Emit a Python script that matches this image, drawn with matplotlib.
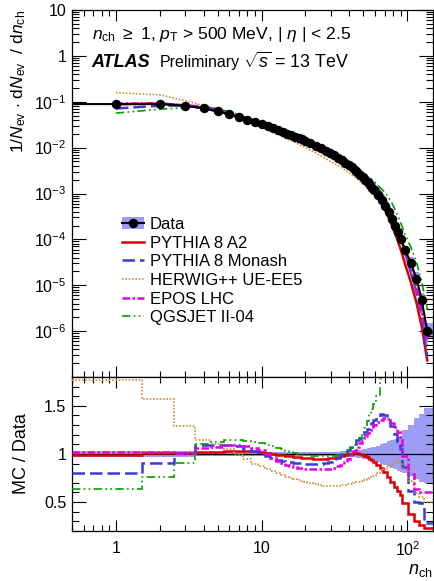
import numpy as np
import matplotlib
matplotlib.use('Agg')
import matplotlib.pyplot as plt
from matplotlib.ticker import FixedLocator, FixedFormatter, LogLocator, MultipleLocator, NullFormatter
from matplotlib.patches import Patch
from matplotlib.lines import Line2D

plt.rcParams['font.family'] = ['Liberation Sans', 'DejaVu Sans']
plt.rcParams['mathtext.fontset'] = 'custom'
plt.rcParams['mathtext.rm'] = 'Liberation Sans'
plt.rcParams['mathtext.it'] = 'Liberation Sans:italic'
plt.rcParams['mathtext.bf'] = 'Liberation Sans:bold'

# bin centres / edges (n_ch)
nch = [1, 2, 3, 4, 5, 6, 7, 8, 9, 10, 11, 12, 13, 14, 15, 16, 17, 18, 19, 20,
       21.5, 23.5, 25.5, 27.5, 29.5, 31.5, 33.5, 35.5, 37.5, 39.5,
       41.5, 43.5, 45.5, 47.5, 49.5, 51.5, 53.5, 55.5, 57.5, 59.5,
       62.5, 66.5, 70.5, 74.5, 78.5, 82.5, 86.5, 90.5,
       96.5, 105.5, 115.5, 125.5, 137]
edges = [0.5, 1.5, 2.5, 3.5, 4.5, 5.5, 6.5, 7.5, 8.5, 9.5, 10.5, 11.5, 12.5, 13.5, 14.5,
         15.5, 16.5, 17.5, 18.5, 19.5, 20.5,
         22.5, 24.5, 26.5, 28.5, 30.5, 32.5, 34.5, 36.5, 38.5, 40.5,
         42.5, 44.5, 46.5, 48.5, 50.5, 52.5, 54.5, 56.5, 58.5, 60.5,
         64.5, 68.5, 72.5, 76.5, 80.5, 84.5, 88.5, 92.5,
         100.5, 110.5, 120.5, 130.5, 150.5]

# 1/Nev dNev/dnch
data = [0.089, 0.090, 0.082, 0.072, 0.062, 0.053, 0.046, 0.040, 0.036, 0.0331,
        0.0295, 0.0263, 0.0240, 0.0219, 0.0200, 0.0186, 0.0174, 0.0162, 0.0151, 0.0141,
        0.0127, 0.0111, 0.0097, 0.0086, 0.00764, 0.00676, 0.00603, 0.00533, 0.00473, 0.0042,
        0.00372, 0.00331, 0.00293, 0.00257, 0.00226, 0.00199, 0.00175, 0.00153, 0.00135, 0.00119,
        9.5e-4, 7.1e-4, 5.3e-4, 3.86e-4, 2.78e-4, 2.0e-4, 1.43e-4, 1.0e-4,
        5.9e-5, 3.1e-5, 1.4e-5, 4.8e-6, 1.0e-6]

# relative uncertainty of data (up / down)
err_up = [0.03, 0.03, 0.03, 0.025, 0.025, 0.025, 0.02, 0.02, 0.02, 0.02,
          0.018, 0.018, 0.018, 0.018, 0.018, 0.018, 0.018, 0.018, 0.018, 0.018,
          0.018, 0.018, 0.019, 0.02, 0.021, 0.022, 0.024, 0.026, 0.028, 0.03,
          0.033, 0.036, 0.04, 0.044, 0.048, 0.053, 0.058, 0.064, 0.07, 0.076,
          0.085, 0.10, 0.115, 0.13, 0.145, 0.16, 0.175, 0.19,
          0.245, 0.30, 0.37, 0.42, 0.48]
err_dn = [0.03, 0.03, 0.03, 0.025, 0.025, 0.025, 0.02, 0.02, 0.02, 0.02,
          0.018, 0.018, 0.018, 0.018, 0.018, 0.018, 0.018, 0.018, 0.018, 0.018,
          0.018, 0.018, 0.019, 0.02, 0.021, 0.022, 0.024, 0.026, 0.028, 0.03,
          0.033, 0.036, 0.04, 0.044, 0.048, 0.053, 0.058, 0.064, 0.07, 0.076,
          0.085, 0.10, 0.115, 0.13, 0.145, 0.16, 0.175, 0.19,
          0.20, 0.23, 0.26, 0.29, 0.30]

# MC / Data
r_a2 = [0.99, 1.005, 1.01, 1.02, 1.025, 1.03, 1.035, 1.035, 1.03, 1.02,
        1.01, 1.0, 0.99, 0.985, 0.98, 0.975, 0.97, 0.965, 0.96, 0.96,
        0.955, 0.95, 0.95, 0.95, 0.955, 0.96, 0.97, 0.98, 0.99, 0.995,
        1.0, 1.005, 1.005, 1.0, 0.99, 0.98, 0.965, 0.95, 0.935, 0.915,
        0.89, 0.85, 0.81, 0.76, 0.71, 0.66, 0.62, 0.57,
        0.49, 0.38, 0.30, 0.26, 0.23]
r_monash = [0.80, 0.91, 1.01, 1.09, 1.09, 1.09, 1.08, 1.05, 1.03, 1.0,
            0.975, 0.955, 0.94, 0.93, 0.92, 0.915, 0.91, 0.905, 0.905, 0.90,
            0.90, 0.90, 0.90, 0.905, 0.915, 0.935, 0.96, 0.985, 1.01, 1.04,
            1.07, 1.10, 1.14, 1.17, 1.20, 1.23, 1.26, 1.29, 1.32, 1.35,
            1.385, 1.41, 1.40, 1.35, 1.29, 1.21, 1.13, 1.05,
            0.86, 0.62, 0.50, 0.49, 0.28]
r_herwig = [1.77, 1.57, 1.29, 1.14, 1.10, 1.05, 1.0, 0.95, 0.90, 0.87,
            0.845, 0.82, 0.80, 0.78, 0.765, 0.75, 0.74, 0.73, 0.72, 0.71,
            0.70, 0.69, 0.68, 0.67, 0.665, 0.665, 0.67, 0.675, 0.68, 0.685,
            0.69, 0.70, 0.705, 0.71, 0.72, 0.73, 0.74, 0.75, 0.765, 0.775,
            0.80, 0.82, 0.84, 0.865, 0.885, 0.91, 0.93, 0.91,
            0.84, 0.72, 0.59, 0.55, 0.50]
r_epos = [1.025, 1.025, 1.01, 1.06, 1.07, 1.09, 1.09, 1.08, 1.06, 1.04,
          1.0, 0.96, 0.93, 0.91, 0.89, 0.875, 0.865, 0.855, 0.85, 0.845,
          0.84, 0.84, 0.84, 0.84, 0.845, 0.855, 0.87, 0.89, 0.92, 0.95,
          0.99, 1.03, 1.07, 1.11, 1.15, 1.19, 1.22, 1.25, 1.28, 1.30,
          1.33, 1.355, 1.37, 1.36, 1.32, 1.28, 1.23, 1.15,
          0.98, 0.79, 0.64, 0.61, 0.60]
r_qgsjet = [0.635, 0.765, 0.905, 1.10, 1.12, 1.14, 1.14, 1.13, 1.12, 1.11,
            1.09, 1.08, 1.065, 1.05, 1.035, 1.02, 1.01, 1.0, 0.99, 0.985,
            0.98, 0.975, 0.975, 0.975, 0.975, 0.98, 0.99, 1.0, 1.015, 1.03,
            1.06, 1.09, 1.13, 1.17, 1.21, 1.27, 1.34, 1.41, 1.47, 1.52,
            1.60, 1.78, 1.95, 2.1, 2.2, 2.2, 2.2, 2.2,
            2.2, 2.2, 2.3, 2.5, 3.0]

labels = ['PYTHIA 8 A2', 'PYTHIA 8 Monash', 'HERWIG++ UE-EE5', 'EPOS LHC', 'QGSJET II-04']
ratios = [r_a2, r_monash, r_herwig, r_epos, r_qgsjet]
colors = ['#dd0000', '#3b3bd9', '#c8913a', '#e600e6', '#009e00']
styles = ['-', (0, (5, 2)), (0, (1, 1)), (0, (3, 1, 1, 1)), (0, (5, 2, 1, 2, 1, 2))]
widths = [1.8, 1.8, 1.2, 1.8, 1.2]
band_col = '#9c9cf2'

x = np.array(nch)
d = np.array(data)
eu = np.array(err_up)
ed = np.array(err_dn)

fig = plt.figure(figsize=(4.34, 5.81), dpi=100)
ax1 = fig.add_axes([0.1659, 0.3511, 0.8318, 0.6317])
ax2 = fig.add_axes([0.1659, 0.0861, 0.8318, 0.2651])

# ---- top panel
ax1.stairs(d * (1 + eu), edges, baseline=d * (1 - ed), fill=True, color=band_col, zorder=1)
for r, c, ls, lw in zip(ratios, colors, styles, widths):
    ax1.plot(x, np.array(r) * d, color=c, ls=ls, lw=lw, zorder=2)
ax1.plot(np.r_[edges[0], x], np.r_[d[0], d], color='k', lw=1.5, zorder=3)
ax1.plot(x, d, 'o', color='k', ms=5.8, zorder=4)

ax1.set_xscale('log')
ax1.set_yscale('log')
ax1.set_xlim(0.5, 150)
ax1.set_ylim(1e-7, 10)

# ---- ratio panel
ax2.stairs(1 + eu, edges, baseline=1 - ed, fill=True, color=band_col, zorder=1)
ax2.axhline(1, color='k', lw=0.9, zorder=2)
for r, c, ls, lw in zip(ratios, colors, styles, widths):
    ax2.stairs(r, edges, color=c, ls=ls, lw=lw, baseline=None, zorder=3)
ax2.set_xscale('log')
ax2.set_xlim(0.5, 150)
ax2.set_ylim(0.2, 1.8)

# ---- ticks
ylab = ['', r'$10^{-6}$', r'$10^{-5}$', r'$10^{-4}$', r'$10^{-3}$', r'$10^{-2}$', r'$10^{-1}$', '1', '10']
ax1.yaxis.set_major_locator(FixedLocator([1e-7, 1e-6, 1e-5, 1e-4, 1e-3, 1e-2, 1e-1, 1, 10]))
ax1.yaxis.set_major_formatter(FixedFormatter(ylab))
ax1.yaxis.set_minor_locator(LogLocator(base=10, subs=range(2, 10), numticks=30))
ax1.yaxis.set_minor_formatter(NullFormatter())
for ax in (ax1, ax2):
    ax.xaxis.set_major_locator(FixedLocator([1, 10, 100]))
    ax.xaxis.set_major_formatter(FixedFormatter(['1', '10', r'$10^{2}$']))
    ax.xaxis.set_minor_locator(LogLocator(base=10, subs=range(2, 10), numticks=30))
    ax.xaxis.set_minor_formatter(NullFormatter())
    ax.tick_params(which='both', direction='in', top=True, right=True, labelsize=11.5, width=0.8)
    ax.tick_params(axis='x', which='major', length=8, pad=7)
    ax.tick_params(axis='x', which='minor', length=4)
    ax.tick_params(axis='y', which='major', length=10, pad=4)
    ax.tick_params(axis='y', which='minor', length=5)
    for s in ax.spines.values():
        s.set_linewidth(0.9)
ax1.tick_params(labelbottom=False)
ax2.yaxis.set_major_locator(FixedLocator([0.5, 1.0, 1.5]))
ax2.yaxis.set_major_formatter(FixedFormatter(['0.5', '1', '1.5']))
ax2.yaxis.set_minor_locator(MultipleLocator(0.1))

# ---- labels
ax1.set_ylabel(r'1/$N_{\mathrm{ev}}$ $\cdot$ d$N_{\mathrm{ev}}$  / d$n_{\mathrm{ch}}$', fontsize=12.5, loc='top')
ax1.yaxis.set_label_coords(-0.122, 1.0)
ax2.set_ylabel('MC / Data', fontsize=13)
ax2.yaxis.set_label_coords(-0.117, 0.5)
ax2.set_xlabel(r'$n_{\mathrm{ch}}$', fontsize=13, loc='right', labelpad=2)

ax1.text(0.055, 0.932, r'$n_{\mathrm{ch}}$ $\geq$ 1, $p_{\mathrm{T}}$ > 500 MeV, | $\eta$ | < 2.5',
         transform=ax1.transAxes, fontsize=12.6, va='center')
ax1.text(0.055, 0.858, 'ATLAS', transform=ax1.transAxes, fontsize=13, va='center',
         fontweight='bold', style='italic')
ax1.text(0.2438, 0.858, 'Preliminary', transform=ax1.transAxes, fontsize=11.5, va='center')
ax1.text(0.4737, 0.858, r'$\sqrt{s}$ = 13 TeV', transform=ax1.transAxes, fontsize=12.8, va='center')

# ---- legend
handles = [(Patch(facecolor=band_col, edgecolor='none'),
            Line2D([], [], color='k', lw=1.5, marker='o', ms=5.8))]
for c, ls, lw in zip(colors, styles, widths):
    handles.append(Line2D([], [], color=c, ls=ls, lw=lw))
ax1.legend(handles, ['Data'] + labels, loc='upper left', bbox_to_anchor=(0.1385, 0.436),
           frameon=False, fontsize=12, handlelength=1.32, handletextpad=0.36,
           labelspacing=0.22, borderaxespad=0, borderpad=0)

fig.savefig('out.png', dpi=100)
